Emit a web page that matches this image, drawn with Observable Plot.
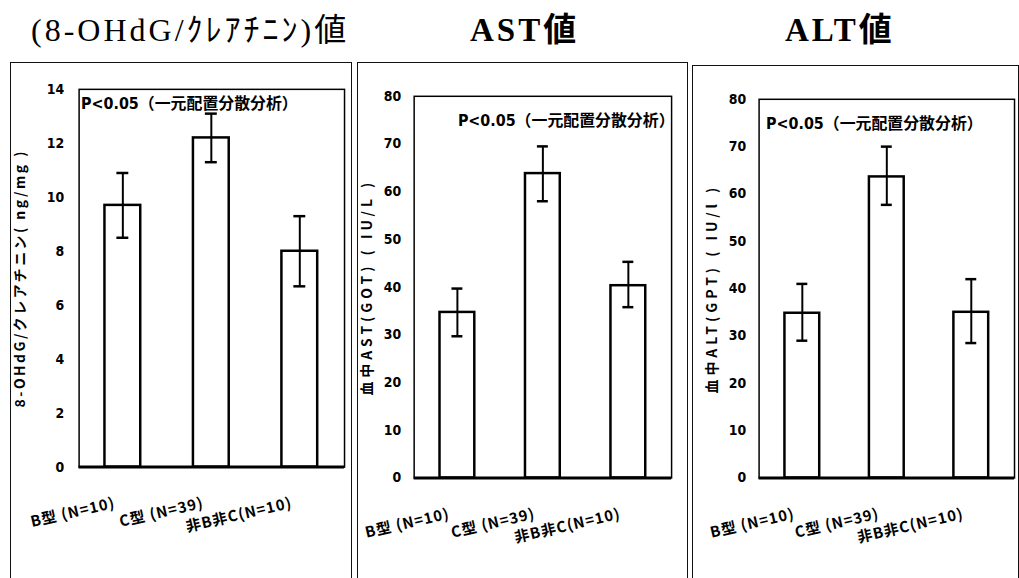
<!DOCTYPE html>
<html><head><meta charset="utf-8">
<script src="https://cdn.jsdelivr.net/npm/d3@7"></script>
<script src="https://cdn.jsdelivr.net/npm/@observablehq/plot@0.6"></script>
<style>
body{margin:0;background:#fff;}
#wrap{position:relative;width:1019px;height:578px;overflow:hidden;background:#fff;}
.title{position:absolute;white-space:nowrap;color:#000;line-height:1;font-family:"Liberation Serif","DejaVu Serif","Noto Sans CJK JP",serif;}
.panel{position:absolute;box-sizing:border-box;border:1.5px solid #111;border-bottom:none;}
.panel svg{position:absolute;left:0;top:0;overflow:visible;}
</style></head><body><div id="wrap"></div>
<script>
// ---- data ----
const groups = ["B型 (N=10)", "C型 (N=39)", "非B非C(N=10)"];
const ohdgMean = [9.7, 12.2, 8.0];
const ohdgLow  = [8.5, 11.3, 6.7];
const ohdgHigh = [10.9, 13.1, 9.3];
const astMean = [34.7, 63.8, 40.3];
const astLow  = [29.7, 58.0, 35.8];
const astHigh = [39.7, 69.5, 45.3];
const altMean = [34.8, 63.6, 35.0];
const altLow  = [29.0, 57.7, 28.5];
const altHigh = [41.0, 70.0, 42.0];
const ohdgTicks = [0, 2, 4, 6, 8, 10, 12, 14];
const aTicks = [0, 10, 20, 30, 40, 50, 60, 70, 80];
const titles = ["(8-OHdG/ｸﾚｱﾁﾆﾝ)値", "AST値", "ALT値"];
const yLabels = ["8-OHdG/クレアチニン( ng/mg )", "血中AST(GOT) ( IU/L )", "血中ALT(GPT) ( IU/l )"];
const note = "P<0.05（一元配置分散分析）";

const wrap = document.getElementById("wrap");

function rows(mean, lo, hi) {
  return groups.map((g, i) => ({g, v: mean[i], lo: lo[i], hi: hi[i]}));
}

const panels = [
  {left: 10, top: 62, width: 342, height: 516, ml: 68, mr: 7, mt: 26, mb: 110,
   domain: [0, 14], ticks: ohdgTicks, data: rows(ohdgMean, ohdgLow, ohdgHigh),
   label: yLabels[0], labelOffset: 64, ls: "2.5px", tickPad: 15, ndx: 2, ndy: 15},
  {left: 357, top: 62, width: 331, height: 516, ml: 56, mr: 16, mt: 33, mb: 99,
   domain: [0, 80], ticks: aTicks, data: rows(astMean, astLow, astHigh),
   label: yLabels[1], labelOffset: 52, ls: "4px", tickPad: 13, ndx: 44, ndy: 25},
  {left: 692, top: 65, width: 327, height: 513, ml: 66, mr: 4, mt: 33, mb: 99,
   domain: [0, 80], ticks: aTicks, data: rows(altMean, altLow, altHigh),
   label: yLabels[2], labelOffset: 52, ls: "4px", tickPad: 13, ndx: 7, ndy: 25}
];

panels.forEach((p) => {
  const div = document.createElement("div");
  div.className = "panel";
  Object.assign(div.style, {left: p.left + "px", top: p.top + "px", width: p.width + "px", height: p.height + "px"});
  const chart = Plot.plot({
    width: p.width, height: p.height,
    marginLeft: p.ml, marginRight: p.mr, marginTop: p.mt, marginBottom: p.mb,
    style: {background: "transparent", fontFamily: "'DejaVu Sans Condensed','Noto Sans CJK JP',sans-serif", fontWeight: "bold", fontSize: "14px", color: "#000", overflow: "visible"},
    x: {domain: groups, paddingInner: 0.59, paddingOuter: 0.29, label: null},
    y: {domain: p.domain, label: null},
    marks: [
      Plot.axisY({ticks: p.ticks, tickSize: 0, tickPadding: p.tickPad, label: p.label, labelArrow: "none", labelAnchor: "center", labelOffset: p.labelOffset}),
      Plot.axisX({tickSize: 0, tickPadding: 36, tickRotate: -13, dx: -8}),
      Plot.barY(p.data, {x: "g", y: "v", fill: "white", stroke: "black", strokeWidth: 2.5}),
      Plot.ruleX(p.data, {x: "g", y1: "lo", y2: "hi", stroke: "black", strokeWidth: 2}),
      Plot.tickY(p.data, {x: "g", y: "lo", stroke: "black", strokeWidth: 2.5, insetLeft: 12, insetRight: 12}),
      Plot.tickY(p.data, {x: "g", y: "hi", stroke: "black", strokeWidth: 2.5, insetLeft: 12, insetRight: 12}),
      Plot.frame({stroke: "black", strokeWidth: 1.5}),
      Plot.ruleY([0], {stroke: "black", strokeWidth: 3}),
      Plot.text([note], {frameAnchor: "top-left", dx: p.ndx, dy: p.ndy, text: d => d, fontSize: 16, fontWeight: "bold", textAnchor: "start", lineAnchor: "middle", fill: "black"})
    ]
  });
  d3.select(chart).selectAll('[aria-label="y-axis label"] text')
    .text(function() { return this.textContent.replace(/\s*[→↑↓←]\s*/g, ""); })
    .style("font-size", "14px").style("letter-spacing", p.ls).style("font-family", "'Noto Sans CJK JP',sans-serif");
  d3.select(chart).selectAll('[aria-label="x-axis tick label"] text')
    .style("font-size", "15px").style("letter-spacing", "1px").style("font-family", "'Noto Sans CJK JP',sans-serif");
  div.appendChild(chart);
  wrap.appendChild(div);
});

const tpos = [
  {left: 31, top: 14, size: 32, weight: "normal", ls: "3px"},
  {left: 470, top: 14, size: 33, weight: "bold", ls: "3px"},
  {left: 785, top: 14, size: 33, weight: "bold", ls: "3px"}
];
titles.forEach((t, i) => {
  const el = document.createElement("div");
  el.className = "title";
  el.textContent = t;
  Object.assign(el.style, {left: tpos[i].left + "px", top: tpos[i].top + "px", fontSize: tpos[i].size + "px", fontWeight: tpos[i].weight, letterSpacing: tpos[i].ls});
  wrap.appendChild(el);
});
</script>
</body></html>
